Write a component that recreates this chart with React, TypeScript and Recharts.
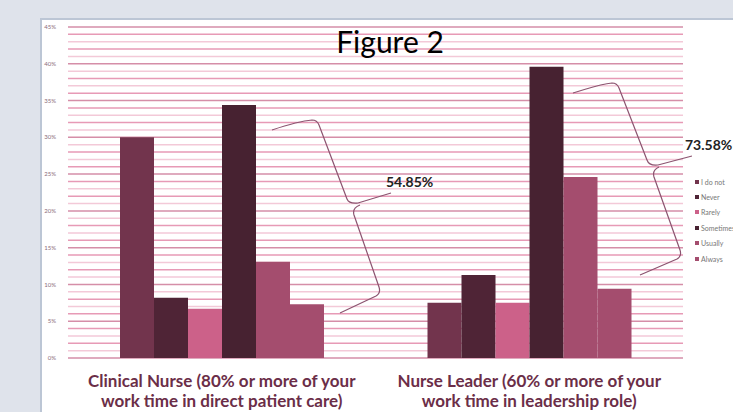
import { BarChart, Bar, XAxis, YAxis, CartesianGrid, Legend } from "recharts";

const categoryLines = [
  ["Clinical Nurse (80% or more of your", "work time in direct patient care)"],
  ["Nurse Leader (60% or more of your", "work time in leadership role)"],
];
const responses = ["I do not", "Never", "Rarely", "Sometimes", "Usually", "Always"];
const clinicalValues = [30.0, 8.2, 6.7, 34.4, 13.1, 7.3];
const leaderValues = [7.5, 11.3, 7.5, 39.6, 24.6, 9.4];
const groupTotals = ["54.85%", "73.58%"];
const yTicks = Array.from({ length: 46 }, (_, i) => i);

const COLORS = ["#72344d", "#4f2436", "#cc6189", "#472231", "#a44d6e", "#a44d6e"];

const data = categoryLines.map((lines, ci) => {
  const row: Record<string, number | string> = { name: lines.join(" ") };
  const vals = ci === 0 ? clinicalValues : leaderValues;
  responses.forEach((r, i) => (row[r] = vals[i]));
  return row;
});

const FONT = "Lato, 'Open Sans', sans-serif";

function CategoryTick({ x, y, index }: any) {
  const lines = categoryLines[index] || [];
  return (
    <g>
      {lines.map((l, i) => (
        <text
          key={i}
          x={x}
          y={y + 21 + i * 20}
          textAnchor="middle"
          fontFamily={FONT}
          fontWeight="bold"
          fontSize={17}
          fill="#6b2e48"
        >
          {l}
        </text>
      ))}
    </g>
  );
}

function GridLine(props: any) {
  const { x1, x2, y1, y2, index } = props;
  const strong = index % 5 === 0;
  return (
    <line
      key={`g-${index}`}
      x1={x1}
      x2={x2}
      y1={y1}
      y2={y2}
      stroke={strong ? "#d58ea8" : index % 2 ? "#f3c9d8" : "#e79ab6"}
      strokeWidth={1.5}
    />
  );
}

function LegendList({ payload }: any) {
  const items = [...(payload || [])].sort(
    (a: any, b: any) => responses.indexOf(a.value) - responses.indexOf(b.value)
  );
  return (
    <div style={{ fontFamily: FONT, fontSize: 7, color: "#777", whiteSpace: "nowrap" }}>
      {items.map((p: any, i: number) => (
        <div key={i} style={{ height: 15.4, display: "flex", alignItems: "center" }}>
          <span
            style={{ width: 4, height: 4, background: p.color, display: "inline-block", marginRight: 2 }}
          />
          {p.value}
        </div>
      ))}
    </div>
  );
}

export default function App() {
  return (
    <div
      style={{
        position: "absolute",
        left: 0,
        top: 0,
        width: 733,
        height: 412,
        overflow: "hidden",
        background: "#dfe3eb",
      }}
    >
      <div
        style={{
          position: "absolute",
          left: 40,
          top: 18,
          width: 720,
          height: 420,
          background: "#fff",
          borderLeft: "2px solid #bcc6d5",
          borderTop: "2px solid #bcc6d5",
        }}
      />
      <div style={{ position: "absolute", left: 0, top: 0 }}>
        <BarChart
          width={733}
          height={412}
          data={data}
          margin={{ top: 27, right: 50, bottom: 0, left: 0 }}
          barGap={0}
          barSize={34}
        >
          <CartesianGrid horizontal={GridLine} vertical={false} />
          <XAxis dataKey="name" height={54} axisLine={false} tickLine={false} tick={CategoryTick} interval={0} />
          <YAxis
            width={68}
            domain={[0, 45]}
            ticks={yTicks}
            interval={0}
            axisLine={false}
            tickLine={false}
            tickMargin={6}
            tickFormatter={(v: number) => (v % 5 === 0 ? `${v}%` : "")}
            tick={{ fontFamily: FONT, fontSize: 6, fill: "#8a6a7a" }}
          />
          <Legend
            layout="vertical"
            align="center"
            verticalAlign="middle"
            wrapperStyle={{ left: 695, top: 174, width: 60 }}
            content={LegendList}
          />
          {responses.map((r, i) => (
            <Bar key={r} dataKey={r} name={r} fill={COLORS[i]} isAnimationActive={false} />
          ))}
        </BarChart>
      </div>
      <svg
        width={733}
        height={412}
        style={{ position: "absolute", left: 0, top: 0, pointerEvents: "none" }}
      >
        <g fill="none" stroke="#8c5470" strokeWidth={1.2}>
          <path d="M272,130 C290,124 300,121 312,120 Q317,120 319,125 L347,199 Q349,204 358,203 L391,193" />
          <path d="M360,205 Q352,208 354,215 L379,287 Q381,293 376,296 L340,313" />
          <path d="M573,93 C590,88 600,84 612,83 Q617,83 619,88 L647,160 Q649,166 658,165 L692,156" />
          <path d="M659,167 Q652,170 654,177 L680,250 Q682,256 677,259 L640,275" />
        </g>
        <text x={390} y={53} textAnchor="middle" fontFamily={FONT} fontSize={30} fill="#000">
          Figure 2
        </text>
        <text x={386} y={187} fontFamily={FONT} fontWeight="bold" fontSize={14} fill="#222">
          {groupTotals[0]}
        </text>
        <text x={685} y={150} fontFamily={FONT} fontWeight="bold" fontSize={14} fill="#222">
          {groupTotals[1]}
        </text>
      </svg>
    </div>
  );
}
